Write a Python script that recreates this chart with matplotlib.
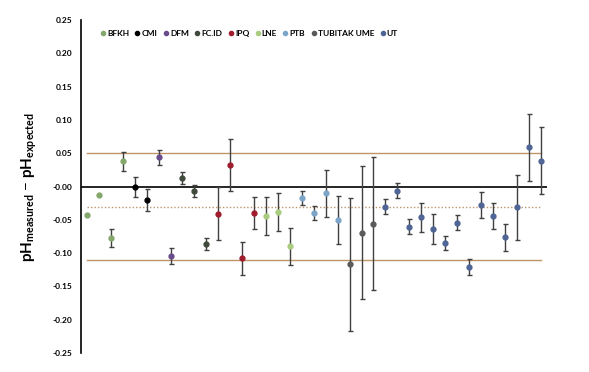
import matplotlib
matplotlib.use("Agg")
import matplotlib.pyplot as plt
from matplotlib.lines import Line2D
import numpy as np

plt.rcParams["font.family"] = ["Lato", "DejaVu Sans"]
plt.rcParams["mathtext.fontset"] = "custom"
plt.rcParams["mathtext.bf"] = "Lato:bold"
plt.rcParams["mathtext.rm"] = "Lato"

# labs in legend order, with their colours
LABS = ["BFKH", "CMI", "DFM", "FC.ID", "IPQ", "LNE", "PTB", "TUBITAK UME", "UT"]
COLORS = ["#84a86b", "#000000", "#6a4c8c", "#3f4a3c", "#a01c2c",
          "#a9cc7e", "#7ca5c9", "#5a5a5a", "#4f6596"]

# one entry per measurement, left to right
point_lab = (["BFKH"] * 4 + ["CMI"] * 2 + ["DFM"] * 2 + ["FC.ID"] * 3
             + ["IPQ"] * 4 + ["LNE"] * 3 + ["PTB"] * 4 + ["TUBITAK UME"] * 3
             + ["UT"] * 14)
delta = [-0.043, -0.013, -0.077, 0.038,
         0.000, -0.020,
         0.044, -0.104,
         0.013, -0.006, -0.086,
         -0.041, 0.033, -0.108, -0.040,
         -0.044, -0.038, -0.090,
         -0.017, -0.040, -0.010, -0.050,
         -0.117, -0.069, -0.056,
         -0.030, -0.006, -0.060, -0.046, -0.064, -0.085, -0.054,
         -0.121, -0.028, -0.044, -0.076, -0.031, 0.059, 0.039]
uncert = [0.0, 0.0, 0.014, 0.014,
          0.015, 0.016,
          0.011, 0.012,
          0.009, 0.009, 0.009,
          0.040, 0.039, 0.025, 0.024,
          0.029, 0.029, 0.028,
          0.0105, 0.0105, 0.035, 0.036,
          0.100, 0.100, 0.100,
          0.011, 0.011, 0.011, 0.022, 0.0225, 0.0105, 0.0115,
          0.0115, 0.0195, 0.019, 0.0205, 0.049, 0.050, 0.050]

MEAN = -0.03
UPPER = 0.05
LOWER = -0.11

fig = plt.figure(figsize=(5.89, 3.72), dpi=100)
ax = fig.add_axes([0.1375, 0.051, 0.7905, 0.895])

x = np.arange(1, len(delta) + 1)
ax.axhline(0, color="black", lw=1.2, zorder=1)
ax.plot([x[0], x[-1]], [UPPER, UPPER], color="#c0946a", lw=1.0, zorder=1)
ax.plot([x[0], x[-1]], [LOWER, LOWER], color="#c0946a", lw=1.0, zorder=1)
ax.plot([x[0], x[-1]], [MEAN, MEAN], color="#c0946a", lw=1.0, ls=(0, (1, 1.5)), zorder=1)

for xi, d, u, lab in zip(x, delta, uncert, point_lab):
    c = COLORS[LABS.index(lab)]
    if u > 0:
        ax.errorbar(xi, d, yerr=u, fmt="none", ecolor="#404040", elinewidth=1.0,
                    capsize=1.8, capthick=1.0, zorder=2)
    ax.plot(xi, d, "o", color=c, ms=3.5, zorder=3)

ax.set_xlim(0.5, 39.5)
ax.set_ylim(-0.25, 0.25)
ax.set_yticks(np.arange(-0.25, 0.251, 0.05))
ax.set_yticklabels([f"{v:.2f}" for v in np.arange(-0.25, 0.251, 0.05)],
                   fontsize=6, fontweight="bold")
ax.tick_params(axis="y", length=0, pad=6)
ax.set_xticks([])
for s in ("top", "right", "bottom"):
    ax.spines[s].set_visible(False)
ax.spines["left"].set_linewidth(1.2)

ax.set_ylabel(r"$\mathbf{pH_{measured}}$ $-$ $\mathbf{pH_{expected}}$",
              fontsize=11, labelpad=10)

handles = [Line2D([], [], ls="none", marker="o", ms=3.0, color=c) for c in COLORS]
ax.legend(handles, LABS, loc="center left", bbox_to_anchor=(0.03, 0.96),
          ncol=9, frameon=False, handlelength=0.5, handletextpad=0.25,
          columnspacing=0.75, borderpad=0.2, prop={"size": 6, "weight": "bold"})

fig.savefig("out.png", dpi=100)
